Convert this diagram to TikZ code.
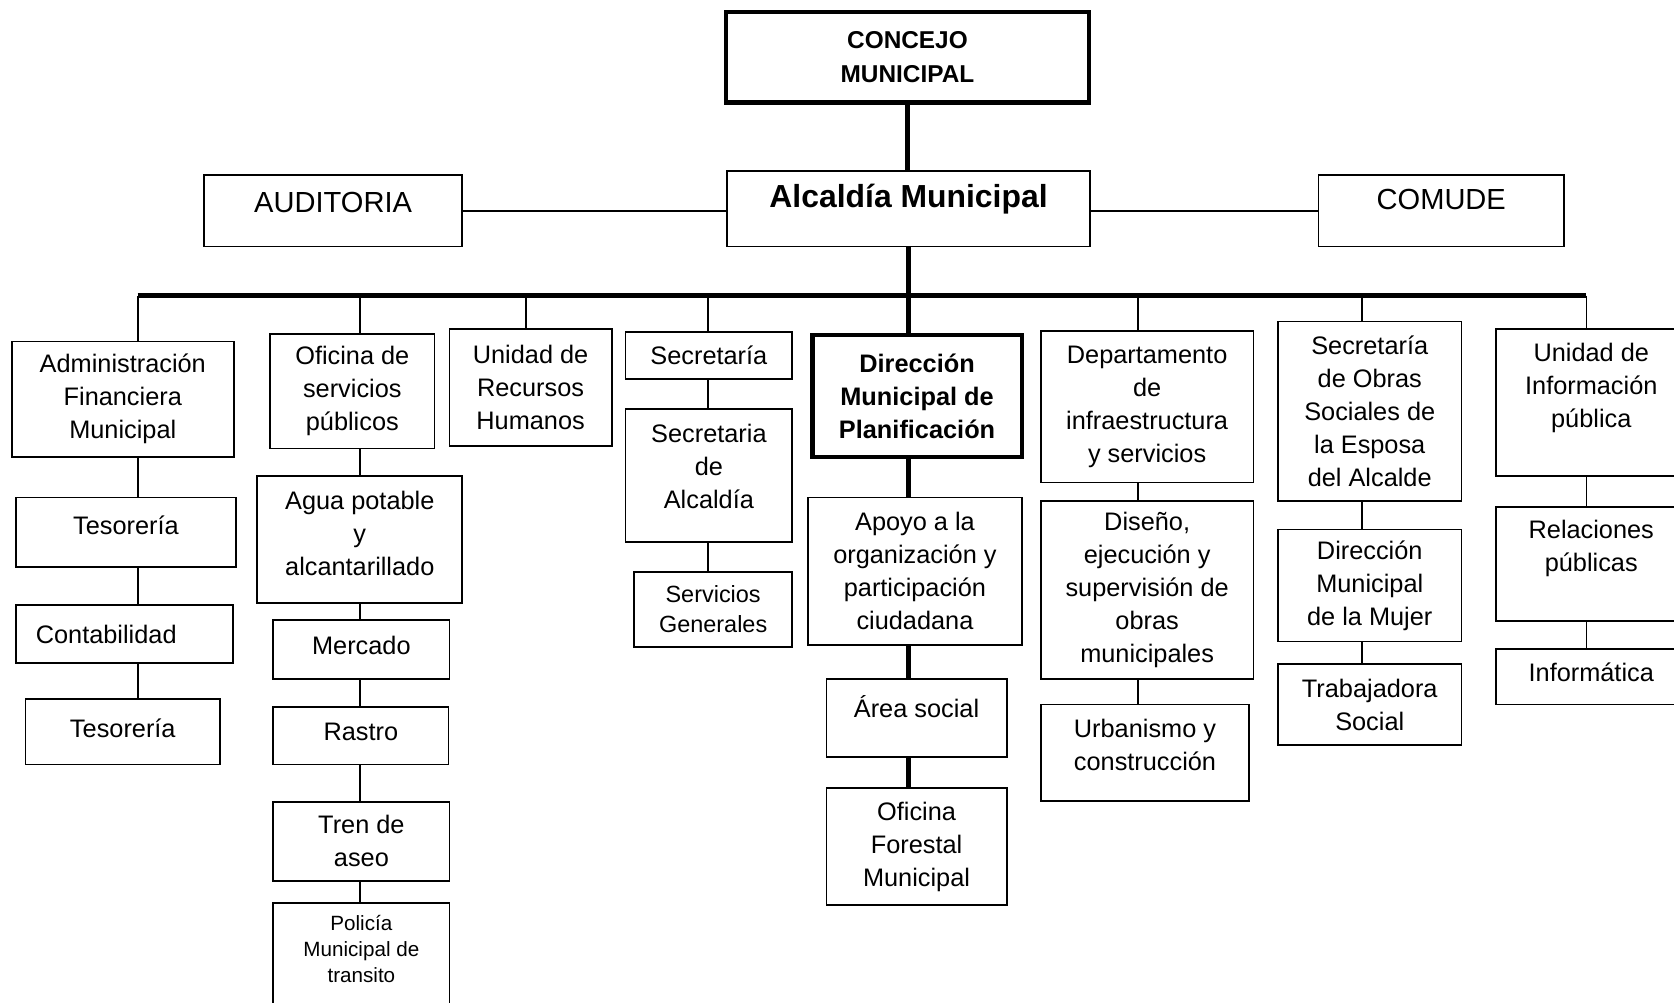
\documentclass[tikz,border=0pt]{standalone}
\usepackage{fontspec}
\setmainfont{Liberation Sans}
\usepackage{tikz}
\usetikzlibrary{calc, positioning}

\begin{document}
\begin{tikzpicture}[
    x=0.02cm, y=-0.02cm,
    box/.style={draw, line width=0.9pt, align=center, inner sep=0pt, font=\fontsize{13.5}{17.6}\selectfont},
    heavybox/.style={box, line width=2.2pt},
    dims/.style 2 args={minimum width=#1cm, minimum height=#2cm},
    link/.style={line width=0.9pt},
    heavy/.style={line width=2.2pt},
    bus/.style={line width=2.4pt}
]
\useasboundingbox (0,0) rectangle (1568,939);
% Top level
\node[heavybox, dims={6.8}{1.7}, font=\bfseries\fontsize{13}{18}\selectfont] (concejo) at (850,53.5) {CONCEJO\\MUNICIPAL};
\node[box, dims={6.8}{1.42}, font=\bfseries\fontsize{17}{20}\selectfont, text depth=0.47cm] (alcaldia) at (851,195.5) {Alcaldía Municipal};
\node[box, dims={4.84}{1.34}, font=\fontsize{15.5}{18}\selectfont, text depth=0.3cm] (auditoria) at (312,197.5) {AUDITORIA};
\node[box, dims={4.6}{1.34}, font=\fontsize{15.5}{18}\selectfont, text depth=0.42cm] (comude) at (1350,197.5) {COMUDE};
\draw[heavy] (concejo.south) -- (concejo.south |- alcaldia.north);
\draw[link] (auditoria.east) -- (auditoria.east -| alcaldia.west);
\draw[link] (comude.west -| alcaldia.east) -- (comude.west);
% Bus
\coordinate (b1) at (129,277);
\coordinate (b2) at (337,277);
\coordinate (b3) at (493,277);
\coordinate (b4) at (663,277);
\coordinate (b5) at (851,277);
\coordinate (b6) at (1066,277);
\coordinate (b7) at (1276,277);
\coordinate (b8) at (1486,277);
\draw[heavy] (b5 |- alcaldia.south) -- (b5);
\draw[bus] (b1) -- (b8);
% Column 1
\node[box, dims={4.16}{2.16}] (admin) at (115,374) {Administración\\Financiera\\Municipal};
\node[box, dims={4.12}{1.3}, text depth=0.26cm] (tes1) at (118,498.5) {Tesorería};
\node[box, dims={4.06}{1.08}] (conta) at (116.5,594) {Contabilidad\hspace*{0.68cm}};
\node[box, dims={3.64}{1.22}, text depth=0.14cm] (tes2) at (115,685.5) {Tesorería};
% Column 2
\node[box, dims={3.08}{2.14}] (ofsp) at (330,366.5) {Oficina de\\servicios\\públicos};
\node[box, dims={3.84}{2.38}, text depth=0.22cm] (agua) at (337,505.5) {Agua potable\\y\\alcantarillado};
\node[box, dims={3.3}{1.1}, text depth=0.18cm] (mercado) at (338.5,608.5) {Mercado};
\node[box, dims={3.28}{1.08}, text depth=0.16cm] (rastro) at (338,689) {Rastro};
\node[box, dims={3.3}{1.48}] (tren) at (338.5,788) {Tren de\\aseo};
\node[box, dims={3.3}{1.98}, font=\fontsize{11}{13.8}\selectfont, text depth=0.26cm] (policia) at (338.5,895.5) {Policía\\Municipal de\\transito};
% Column 3
\node[box, dims={3.04}{2.2}] (rrhh) at (497,363) {Unidad de\\Recursos\\Humanos};
% Column 4
\node[box, dims={3.12}{0.88}] (secr) at (664,333) {Secretaría};
\node[box, dims={3.12}{2.5}, text depth=0.34cm] (secalc) at (664,445.5) {Secretaria\\de\\Alcaldía};
\node[box, dims={2.96}{1.4}, font=\fontsize{12.5}{16}\selectfont] (servg) at (668,571) {Servicios\\Generales};
% Column 5
\node[heavybox, dims={3.92}{2.28}, font=\bfseries\fontsize{13.5}{17.6}\selectfont] (dmp) at (859,371) {Dirección\\Municipal de\\Planificación};
\node[box, dims={4.0}{2.76}] (apoyo) at (857,535) {Apoyo a la\\organización y\\participación\\ciudadana};
\node[box, dims={3.38}{1.46}, text depth=0.42cm] (area) at (858.5,672.5) {Área social};
\node[box, dims={3.38}{2.2}] (ofor) at (858.5,793) {Oficina\\Forestal\\Municipal};
% Column 6
\node[box, dims={3.98}{2.84}] (depto) at (1074.5,381) {Departamento\\de\\infraestructura\\y servicios};
\node[box, dims={3.98}{3.34}] (diseno) at (1074.5,552.5) {Diseño,\\ejecución y\\supervisión de\\obras\\municipales};
\node[box, dims={3.9}{1.8}, text depth=0.28cm] (urban) at (1072.5,705) {Urbanismo y\\construcción};
% Column 7
\node[box, dims={3.44}{3.36}] (secobras) at (1283,385) {Secretaría\\de Obras\\Sociales de\\la Esposa\\del Alcalde};
\node[box, dims={3.44}{2.1}] (dmm) at (1283,548.5) {Dirección\\Municipal\\de la Mujer};
\node[box, dims={3.44}{1.52}] (trab) at (1283,660) {Trabajadora\\Social};
% Column 8
\node[box, dims={3.58}{2.76}, text depth=0.66cm] (uinfo) at (1490.5,377) {Unidad de\\Información\\pública};
\node[box, dims={3.58}{2.14}, text depth=0.7cm] (relpub) at (1490.5,528.5) {Relaciones\\públicas};
\node[box, dims={3.58}{1.04}, text depth=0.16cm] (inform) at (1490.5,634) {Informática};
% Drops from the bus
\foreach \c/\n in {1/admin, 2/ofsp, 3/rrhh, 4/secr, 6/depto, 7/secobras, 8/uinfo}
    \draw[link] (b\c) -- (b\c |- \n.north);
\draw[heavy] (b5) -- (b5 |- dmp.north);
% Inside the columns
\foreach \c/\u/\l in {1/admin/tes1, 1/tes1/conta, 1/conta/tes2,
    2/ofsp/agua, 2/agua/mercado, 2/mercado/rastro, 2/rastro/tren, 2/tren/policia,
    4/secr/secalc, 4/secalc/servg, 6/depto/diseno, 6/diseno/urban,
    7/secobras/dmm, 7/dmm/trab, 8/uinfo/relpub, 8/relpub/inform}
    \draw[link] (b\c |- \u.south) -- (b\c |- \l.north);
\foreach \u/\l in {dmp/apoyo, apoyo/area, area/ofor}
    \draw[heavy] (b5 |- \u.south) -- (b5 |- \l.north);
\end{tikzpicture}
\end{document}
